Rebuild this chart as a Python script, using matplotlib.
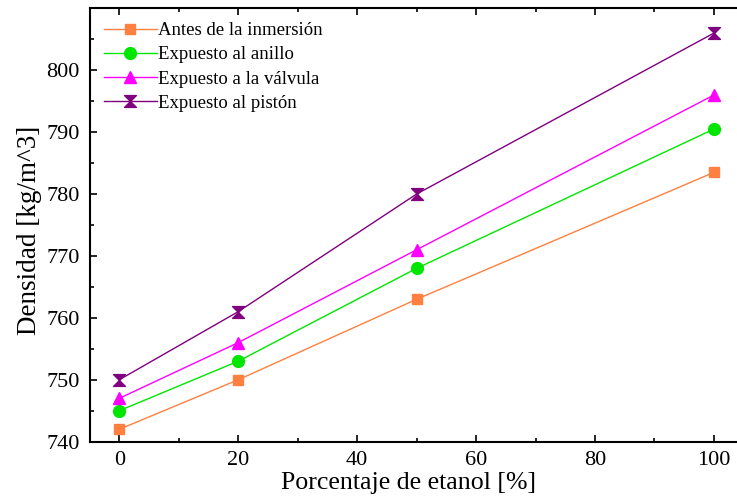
import matplotlib
matplotlib.use("Agg")
import matplotlib.pyplot as plt
from matplotlib.path import Path
from matplotlib.ticker import MultipleLocator, FixedLocator

plt.rcParams['font.family'] = ['Liberation Serif', 'DejaVu Serif']

porcentaje = [0, 20, 50, 100]
antes = [742, 750, 763, 783.5]
anillo = [745, 753, 768, 790.5]
valvula = [747, 756, 771, 796]
piston = [750, 761, 780, 806]
labels = ["Antes de la inmersión", "Expuesto al anillo",
          "Expuesto a la válvula", "Expuesto al pistón"]
yticks = [740, 750, 760, 770, 780, 790, 800]
colors = ['#FF8040', '#00E600', '#FF00FF', '#800080']

hourglass = Path([(-1, 1), (1, 1), (0, 0), (1, -1), (-1, -1), (0, 0), (-1, 1)],
                 [Path.MOVETO, Path.LINETO, Path.LINETO, Path.LINETO,
                  Path.LINETO, Path.LINETO, Path.CLOSEPOLY])

fig = plt.figure(figsize=(7.37, 4.99), dpi=100)
W, H = 737, 499
left, right, top, bottom = 89.5, 743.7, 8.3, 441.7
ax = fig.add_axes([left / W, 1 - bottom / H, (right - left) / W, (bottom - top) / H])

series = [antes, anillo, valvula, piston]
markers = ['s', 'o', '^', hourglass]
msizes = [7.5, 8.5, 8, 8.5]
for vals, lab, c, m, ms in zip(series, labels, colors, markers, msizes):
    ax.plot(porcentaje, vals, color=c, lw=1.0, marker=m, markersize=ms,
            markerfacecolor=c, markeredgecolor=c, label=lab)

ax.set_xlim(-5, 105)
ax.set_ylim(740, 810)
ax.xaxis.set_major_locator(MultipleLocator(20))
ax.xaxis.set_minor_locator(MultipleLocator(10))
ax.yaxis.set_major_locator(FixedLocator(yticks))
ax.yaxis.set_minor_locator(MultipleLocator(5))
ax.tick_params(which='both', direction='in', top=True, right=False,
               labelsize=16, width=1.2, pad=7)
ax.tick_params(which='major', length=5)
ax.tick_params(which='minor', length=3)
for s in ax.spines.values():
    s.set_linewidth(1.5)

ax.set_xlabel("Porcentaje de etanol [%]", fontsize=18.6, labelpad=1)
ax.set_ylabel("Densidad [kg/m^3]", fontsize=19.5, labelpad=3)
ax.xaxis.label.set_x(0.487)
ax.yaxis.label.set_y(0.488)

leg = ax.legend(loc='upper left', bbox_to_anchor=(104 / W, 1 - 22 / H),
                bbox_transform=fig.transFigure, frameon=False, fontsize=13.5,
                handlelength=2.8, handletextpad=0.08, labelspacing=0.38,
                borderpad=0, borderaxespad=0)

fig.savefig("out.png", dpi=100)
